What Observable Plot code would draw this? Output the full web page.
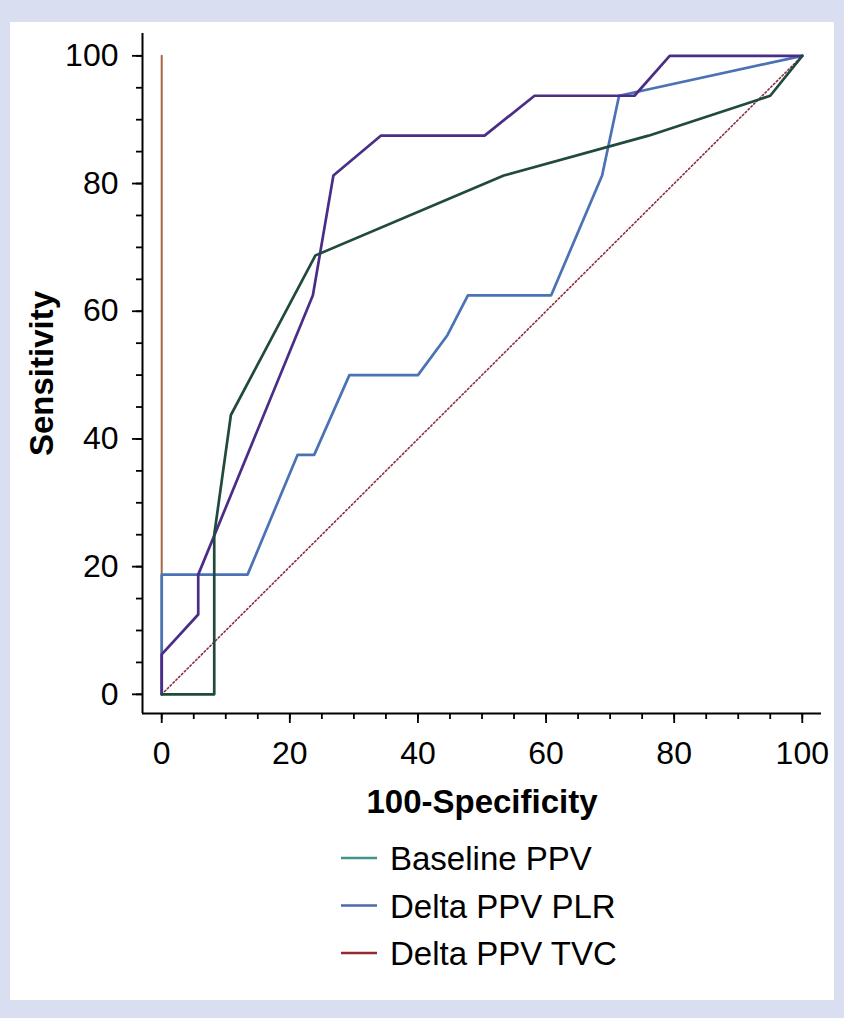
<!DOCTYPE html>
<html><head><meta charset="utf-8">
<script src="https://cdn.jsdelivr.net/npm/d3@7"></script>
<script src="https://cdn.jsdelivr.net/npm/@observablehq/plot@0.6"></script>
<style>
html,body{margin:0;padding:0;background:#d9dff0;width:844px;height:1018px;overflow:hidden;}
#panel{position:absolute;left:10px;top:22px;width:824px;height:978px;background:#fff;}
#chart{position:absolute;left:0;top:0;}
#legend{position:absolute;left:0;top:0;pointer-events:none;}
</style></head><body>
<div id="panel"><div id="chart"></div></div>
<script>
// ---- data ----
const xTicks = [0, 20, 40, 60, 80, 100];
const yTicks = [0, 20, 40, 60, 80, 100];
const minorTicks = d3.range(0, 101, 5);
const xDomain = [-3, 103];
const yDomain = [-3, 103.5];

const baselineX = [0, 8.2, 8.2, 10.8, 24, 53.4, 76, 95, 100];
const baselineY = [0, 0, 25, 43.75, 68.75, 81.25, 87.5, 93.75, 100];

const plrX = [0, 0, 13.4, 21.2, 23.8, 29.3, 40, 44.6, 47.8, 60.8, 68.75, 71.4, 100];
const plrY = [0, 18.75, 18.75, 37.5, 37.5, 50, 50, 56.25, 62.5, 62.5, 81.25, 93.75, 100];

const tvcX = [0, 0, 5.7, 5.7, 23.6, 26.8, 34.2, 50.4, 58.2, 73.8, 79.3, 100];
const tvcY = [0, 6.25, 12.5, 18.75, 62.5, 81.25, 87.5, 87.5, 93.75, 93.75, 100, 100];

const vertX = [0, 0];
const vertY = [0, 100];
const diagX = [0, 100];
const diagY = [0, 100];

const seriesNames = ["Delta PPV PLR", "Delta PPV TVC", "Baseline PPV"];
const lineColors = ["#4a72b4", "#4b2d88", "#214a3e"];

const legendNames = ["Baseline PPV", "Delta PPV PLR", "Delta PPV TVC"];
const legendColors = ["#3f9489", "#4a6aab", "#922c2c"];

// ---- build tables ----
const rows = [];
function addSeries(name, xs, ys) { xs.forEach((x, i) => rows.push({series: name, x, y: ys[i]})); }
addSeries("Delta PPV PLR", plrX, plrY);
addSeries("Delta PPV TVC", tvcX, tvcY);
addSeries("Baseline PPV", baselineX, baselineY);
const vert = vertX.map((x, i) => ({x, y: vertY[i]}));
const diag = diagX.map((x, i) => ({x, y: diagY[i]}));

const font = "'Liberation Sans', Arial, sans-serif";

const chart = Plot.plot({
  width: 824,
  height: 820,
  marginLeft: 132,
  marginRight: 13,
  marginTop: 11,
  marginBottom: 129,
  style: {fontFamily: font, fontSize: "32px", color: "black", background: "white", overflow: "visible"},
  x: {domain: xDomain, label: null},
  y: {domain: yDomain, label: null},
  color: {domain: seriesNames, range: lineColors},
  marks: [
    Plot.axisX({ticks: minorTicks, tickSize: 6, text: null, strokeWidth: 1.8}),
    Plot.axisX({ticks: xTicks, tickSize: 10, tickPadding: 18, fontSize: 32, strokeWidth: 1.8, tickFormat: d3.format("d")}),
    Plot.axisY({ticks: minorTicks, tickSize: 6, text: null, strokeWidth: 1.8}),
    Plot.axisY({ticks: yTicks, tickSize: 10, tickPadding: 14, fontSize: 32, strokeWidth: 1.8, tickFormat: d3.format("d")}),
    Plot.ruleX([xDomain[0]], {stroke: "black", strokeWidth: 2}),
    Plot.ruleY([yDomain[0]], {stroke: "black", strokeWidth: 2}),
    Plot.line(vert, {x: "x", y: "y", stroke: "#a5673f", strokeWidth: 2}),
    Plot.line(diag, {x: "x", y: "y", stroke: "#8b2e3a", strokeWidth: 1.6, strokeDasharray: "1.6,2.4"}),
    Plot.line(rows, {x: "x", y: "y", z: "series", stroke: "series", strokeWidth: 2.7, strokeLinejoin: "round"}),
    Plot.text(["100-Specificity"], {frameAnchor: "bottom", lineAnchor: "bottom", textAnchor: "middle", dy: 99, fontSize: 33, fontWeight: "bold", fill: "black"}),
    Plot.text(["Sensitivity"], {frameAnchor: "left", lineAnchor: "bottom", textAnchor: "middle", rotate: -90, dx: -90, fontSize: 33, fontWeight: "bold", fill: "black"})
  ]
});
document.getElementById("chart").appendChild(chart);

// ---- legend ----
const leg = d3.select("#panel").append("svg")
  .attr("id", "legend").attr("width", 824).attr("height", 978);
legendNames.forEach((name, i) => {
  const base = 848 + i * 47.5;
  leg.append("line")
    .attr("x1", 331).attr("x2", 367)
    .attr("y1", base - 12).attr("y2", base - 12)
    .attr("stroke", legendColors[i]).attr("stroke-width", 2.6);
  leg.append("text")
    .attr("x", 380).attr("y", base)
    .attr("font-family", font).attr("font-size", 33).attr("fill", "black")
    .text(name);
});
</script>
</body></html>
